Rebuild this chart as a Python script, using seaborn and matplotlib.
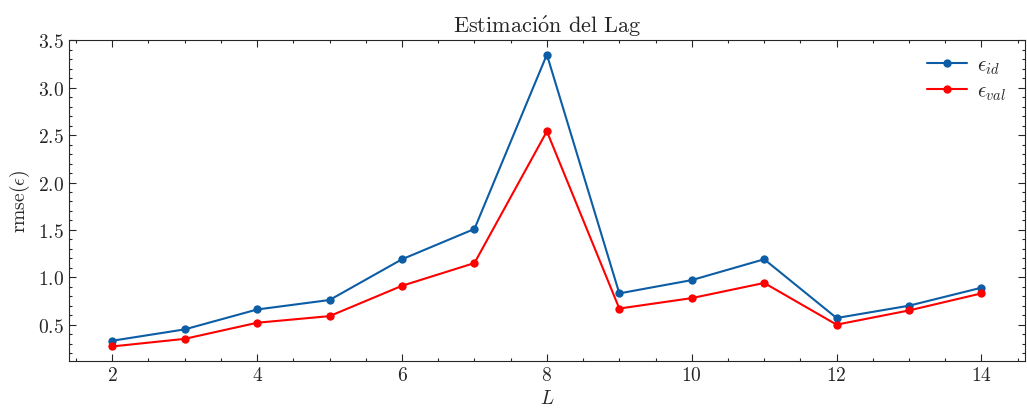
import matplotlib
matplotlib.use("Agg")
import matplotlib.pyplot as plt
from matplotlib.ticker import AutoMinorLocator
import pandas as pd
import seaborn as sns

lags = [2, 3, 4, 5, 6, 7, 8, 9, 10, 11, 12, 13, 14]
rmse_id = [0.33, 0.45, 0.66, 0.76, 1.19, 1.51, 3.35, 0.83, 0.97, 1.19, 0.57, 0.70, 0.89]
rmse_val = [0.27, 0.35, 0.52, 0.59, 0.91, 1.15, 2.54, 0.67, 0.78, 0.94, 0.50, 0.65, 0.83]
labels = [r"$\epsilon_{id}$", r"$\epsilon_{val}$"]
colors = ["#0C5DA5", "#FF0000"]

df = pd.DataFrame({
    "L": lags * 2,
    "rmse": rmse_id + rmse_val,
    "serie": [labels[0]] * len(lags) + [labels[1]] * len(lags),
})

sns.set_style("ticks")
plt.rcParams["font.family"] = ["cmr10", "DejaVu Serif"]
plt.rcParams["mathtext.fontset"] = "cm"
plt.rcParams["axes.formatter.use_mathtext"] = True
plt.rcParams["axes.unicode_minus"] = False

fig, ax = plt.subplots(figsize=(10.27, 4.10), dpi=100)
sns.lineplot(data=df, x="L", y="rmse", hue="serie", palette=colors,
             marker="o", markersize=6, markeredgewidth=0, linewidth=1.5, ax=ax)

# acento con mathtext, cmr10 no tiene la ó
ax.set_title(r"Estimaci$\mathrm{\acute{o}}$n del Lag", fontsize=16)
ax.set_xlabel(r"$L$", fontsize=14)
ax.set_ylabel(r"rmse($\epsilon$)", fontsize=14)
ax.xaxis.set_minor_locator(AutoMinorLocator(4))
ax.yaxis.set_minor_locator(AutoMinorLocator(5))
ax.tick_params(which="both", direction="in", top=True, right=True, labelsize=14)
ax.tick_params(which="major", length=5, width=0.8)
ax.tick_params(which="minor", length=2.5, width=0.8)
for s in ax.spines.values():
    s.set_linewidth(0.8)
ax.legend(frameon=False, loc="upper right", bbox_to_anchor=(1.0, 1.01),
          fontsize=15, title=None, labelspacing=0.3, handletextpad=0.5,
          handlelength=1.9)

fig.subplots_adjust(left=0.067, right=0.998, top=0.9, bottom=0.117)
fig.savefig("out.png", dpi=100)
